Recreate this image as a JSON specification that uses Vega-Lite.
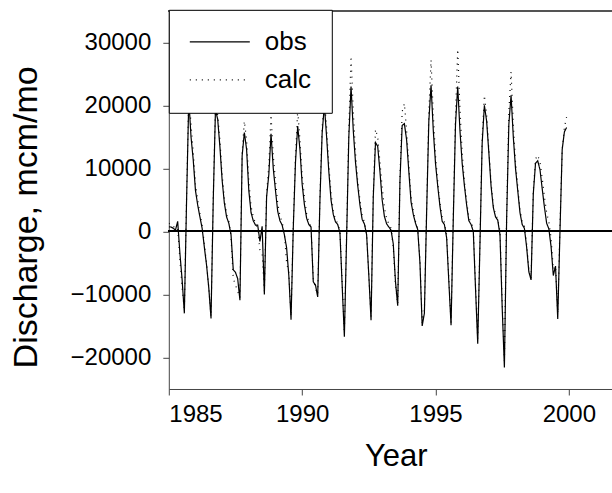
{
  "$schema": "https://vega.github.io/schema/vega-lite/v6.json",
  "width": 443,
  "height": 378.2,
  "autosize": {"type": "none"},
  "padding": {"left": 168.8, "top": 10.8, "right": 0, "bottom": 104},
  "background": "white",
  "config": {
    "view": {"stroke": null},
    "font": "Liberation Sans",
    "axis": {
      "domainColor": "#444",
      "tickColor": "#444",
      "labelColor": "black",
      "titleColor": "black",
      "labelFont": "Liberation Sans",
      "titleFont": "Liberation Sans",
      "labelFontSize": 24,
      "titleFontSize": 31,
      "titleFontWeight": "normal",
      "grid": false,
      "tickSize": 6
    },
    "legend": {
      "labelFont": "Liberation Sans",
      "labelFontSize": 26,
      "labelColor": "black"
    }
  },
  "data": {
    "values": [
      {"t":1985.000,"obs":730,"calc":1300},{"t":1985.083,"obs":700,"calc":1000},{"t":1985.167,"obs":500,"calc":700},{"t":1985.250,"obs":200,"calc":800},{"t":1985.333,"obs":1600,"calc":600},{"t":1985.417,"obs":-3500,"calc":-4500},{"t":1985.500,"obs":-7700,"calc":-9000},{"t":1985.583,"obs":-13000,"calc":-12500},{"t":1985.667,"obs":5000,"calc":5500},{"t":1985.750,"obs":21000,"calc":22000},{"t":1985.833,"obs":15000,"calc":17000},{"t":1985.917,"obs":11300,"calc":12500},
      {"t":1986.000,"obs":6500,"calc":7500},{"t":1986.083,"obs":4200,"calc":5000},{"t":1986.167,"obs":2300,"calc":2800},{"t":1986.250,"obs":500,"calc":1000},{"t":1986.333,"obs":-2500,"calc":-2000},{"t":1986.417,"obs":-5400,"calc":-5000},{"t":1986.500,"obs":-9000,"calc":-9000},{"t":1986.583,"obs":-13800,"calc":-13500},{"t":1986.667,"obs":5000,"calc":5500},{"t":1986.750,"obs":19300,"calc":20000},{"t":1986.833,"obs":17800,"calc":18500},{"t":1986.917,"obs":13400,"calc":14500},
      {"t":1987.000,"obs":8100,"calc":9000},{"t":1987.083,"obs":4500,"calc":5200},{"t":1987.167,"obs":2300,"calc":2800},{"t":1987.250,"obs":1300,"calc":1600},{"t":1987.333,"obs":-500,"calc":-800},{"t":1987.417,"obs":-6100,"calc":-7500},{"t":1987.500,"obs":-6500,"calc":-8500},{"t":1987.583,"obs":-7500,"calc":-9500},{"t":1987.667,"obs":-10900,"calc":-10500},{"t":1987.750,"obs":12000,"calc":12500},{"t":1987.833,"obs":15700,"calc":17500},{"t":1987.917,"obs":13000,"calc":14500},
      {"t":1988.000,"obs":6500,"calc":8000},{"t":1988.083,"obs":3000,"calc":4000},{"t":1988.167,"obs":1700,"calc":2300},{"t":1988.250,"obs":1000,"calc":1300},{"t":1988.333,"obs":1000,"calc":500},{"t":1988.417,"obs":-1600,"calc":-3000},{"t":1988.500,"obs":800,"calc":-3500},{"t":1988.583,"obs":-10000,"calc":-9500},{"t":1988.667,"obs":5500,"calc":6000},{"t":1988.750,"obs":9000,"calc":10500},{"t":1988.833,"obs":15500,"calc":18500},{"t":1988.917,"obs":10000,"calc":12000},
      {"t":1989.000,"obs":6500,"calc":8000},{"t":1989.083,"obs":3200,"calc":4500},{"t":1989.167,"obs":1700,"calc":2500},{"t":1989.250,"obs":1000,"calc":1500},{"t":1989.333,"obs":-500,"calc":-300},{"t":1989.417,"obs":-2600,"calc":-5000},{"t":1989.500,"obs":-7000,"calc":-6500},{"t":1989.583,"obs":-14000,"calc":-13500},{"t":1989.667,"obs":500,"calc":1000},{"t":1989.750,"obs":11000,"calc":12000},{"t":1989.833,"obs":16700,"calc":19200},{"t":1989.917,"obs":13000,"calc":14500},
      {"t":1990.000,"obs":7500,"calc":9000},{"t":1990.083,"obs":4300,"calc":5500},{"t":1990.167,"obs":2100,"calc":2800},{"t":1990.250,"obs":1100,"calc":1500},{"t":1990.333,"obs":700,"calc":700},{"t":1990.417,"obs":-8000,"calc":-7500},{"t":1990.500,"obs":-8500,"calc":-9000},{"t":1990.583,"obs":-10400,"calc":-10000},{"t":1990.667,"obs":5000,"calc":5500},{"t":1990.750,"obs":15600,"calc":16500},{"t":1990.833,"obs":20000,"calc":21000},{"t":1990.917,"obs":15000,"calc":16500},
      {"t":1991.000,"obs":9500,"calc":10500},{"t":1991.083,"obs":5000,"calc":6000},{"t":1991.167,"obs":2700,"calc":3300},{"t":1991.250,"obs":1500,"calc":1800},{"t":1991.333,"obs":1100,"calc":1300},{"t":1991.417,"obs":-200,"calc":0},{"t":1991.500,"obs":-8500,"calc":-8000},{"t":1991.583,"obs":-16700,"calc":-16000},{"t":1991.667,"obs":-1000,"calc":-500},{"t":1991.750,"obs":15000,"calc":16500},{"t":1991.833,"obs":23000,"calc":27800},{"t":1991.917,"obs":16000,"calc":19000},
      {"t":1992.000,"obs":11000,"calc":12500},{"t":1992.083,"obs":7300,"calc":8000},{"t":1992.167,"obs":4200,"calc":5000},{"t":1992.250,"obs":1900,"calc":2500},{"t":1992.333,"obs":1200,"calc":1500},{"t":1992.417,"obs":-500,"calc":-300},{"t":1992.500,"obs":-7000,"calc":-7000},{"t":1992.583,"obs":-14100,"calc":-13500},{"t":1992.667,"obs":5500,"calc":6000},{"t":1992.750,"obs":14100,"calc":16200},{"t":1992.833,"obs":13500,"calc":15000},{"t":1992.917,"obs":9500,"calc":11000},
      {"t":1993.000,"obs":5000,"calc":7000},{"t":1993.083,"obs":2400,"calc":3800},{"t":1993.167,"obs":1200,"calc":2000},{"t":1993.250,"obs":700,"calc":1200},{"t":1993.333,"obs":200,"calc":500},{"t":1993.417,"obs":-2000,"calc":-2500},{"t":1993.500,"obs":-8000,"calc":-8500},{"t":1993.583,"obs":-11800,"calc":-11500},{"t":1993.667,"obs":8000,"calc":8500},{"t":1993.750,"obs":16800,"calc":19000},{"t":1993.833,"obs":17100,"calc":20300},{"t":1993.917,"obs":14500,"calc":16000},
      {"t":1994.000,"obs":9500,"calc":10500},{"t":1994.083,"obs":4700,"calc":5500},{"t":1994.167,"obs":2700,"calc":3200},{"t":1994.250,"obs":1300,"calc":1600},{"t":1994.333,"obs":300,"calc":500},{"t":1994.417,"obs":-5000,"calc":-4500},{"t":1994.500,"obs":-15000,"calc":-14500},{"t":1994.583,"obs":-13000,"calc":-12500},{"t":1994.667,"obs":3000,"calc":3500},{"t":1994.750,"obs":17500,"calc":19000},{"t":1994.833,"obs":23200,"calc":27200},{"t":1994.917,"obs":16000,"calc":18500},
      {"t":1995.000,"obs":10800,"calc":12000},{"t":1995.083,"obs":7200,"calc":8000},{"t":1995.167,"obs":4000,"calc":4500},{"t":1995.250,"obs":1600,"calc":2200},{"t":1995.333,"obs":1100,"calc":1500},{"t":1995.417,"obs":-1000,"calc":-500},{"t":1995.500,"obs":-8000,"calc":-7500},{"t":1995.583,"obs":-14900,"calc":-14500},{"t":1995.667,"obs":2000,"calc":2500},{"t":1995.750,"obs":17000,"calc":18500},{"t":1995.833,"obs":23000,"calc":28900},{"t":1995.917,"obs":16000,"calc":19500},
      {"t":1996.000,"obs":10800,"calc":12500},{"t":1996.083,"obs":7300,"calc":8000},{"t":1996.167,"obs":4200,"calc":4800},{"t":1996.250,"obs":1700,"calc":2200},{"t":1996.333,"obs":1100,"calc":1400},{"t":1996.417,"obs":0,"calc":500},{"t":1996.500,"obs":-9000,"calc":-8500},{"t":1996.583,"obs":-17800,"calc":-17000},{"t":1996.667,"obs":-2000,"calc":-1500},{"t":1996.750,"obs":14000,"calc":15000},{"t":1996.833,"obs":20000,"calc":21600},{"t":1996.917,"obs":17500,"calc":18500},
      {"t":1997.000,"obs":12500,"calc":13000},{"t":1997.083,"obs":7200,"calc":7800},{"t":1997.167,"obs":3800,"calc":4200},{"t":1997.250,"obs":2300,"calc":2600},{"t":1997.333,"obs":1800,"calc":2000},{"t":1997.417,"obs":-500,"calc":0},{"t":1997.500,"obs":-12000,"calc":-11000},{"t":1997.583,"obs":-21600,"calc":-20500},{"t":1997.667,"obs":2000,"calc":2500},{"t":1997.750,"obs":17000,"calc":19000},{"t":1997.833,"obs":21600,"calc":25300},{"t":1997.917,"obs":15000,"calc":17000},
      {"t":1998.000,"obs":10000,"calc":11000},{"t":1998.083,"obs":6500,"calc":7200},{"t":1998.167,"obs":3000,"calc":3500},{"t":1998.250,"obs":1100,"calc":1500},{"t":1998.333,"obs":500,"calc":800},{"t":1998.417,"obs":-2500,"calc":-2000},{"t":1998.500,"obs":-6400,"calc":-6000},{"t":1998.583,"obs":-7700,"calc":-7500},{"t":1998.667,"obs":6000,"calc":6500},{"t":1998.750,"obs":10800,"calc":11500},{"t":1998.833,"obs":11200,"calc":12100},{"t":1998.917,"obs":9800,"calc":11000},
      {"t":1999.000,"obs":6800,"calc":8500},{"t":1999.083,"obs":3900,"calc":5500},{"t":1999.167,"obs":1300,"calc":3000},{"t":1999.250,"obs":400,"calc":1500},{"t":1999.333,"obs":-2400,"calc":-1000},{"t":1999.417,"obs":-7000,"calc":-6000},{"t":1999.500,"obs":-5500,"calc":-5500},{"t":1999.583,"obs":-13900,"calc":-13000},{"t":1999.667,"obs":0,"calc":1000},{"t":1999.750,"obs":13000,"calc":13000},{"t":1999.833,"obs":15800,"calc":16500},{"t":1999.917,"obs":16500,"calc":18200}
    ]
  },
  "layer": [
    {
      "mark": {"type": "rule", "color": "#555", "strokeWidth": 1.2},
      "encoding": {"y": {"datum": 35000, "scale": {"domain": [-25000, 35000]}}}
    },
    {
      "mark": {"type": "rule", "color": "black", "strokeWidth": 1.3},
      "encoding": {"y": {"datum": 0}}
    },
    {
      "transform": [{"fold": ["obs", "calc"], "as": ["series", "value"]}],
      "mark": {"type": "line", "clip": true, "color": "black", "strokeWidth": 1.2},
      "encoding": {
        "x": {
          "field": "t", "type": "quantitative",
          "scale": {"domain": [1985, 2001.61], "nice": false, "zero": false},
          "axis": {
            "title": "Year",
            "values": [1985, 1990, 1995, 2000],
            "format": "d",
            "labelPadding": 8,
            "titleX": 227,
            "titleY": 68,
            "titleBaseline": "middle"
          }
        },
        "y": {
          "field": "value", "type": "quantitative",
          "scale": {"domain": [-25000, 35000], "nice": false, "zero": false},
          "axis": {
            "title": "Discharge, mcm/mo",
            "values": [-20000, -10000, 0, 10000, 20000, 30000],
            "format": "d",
            "labelPadding": 12,
            "titleFontSize": 34,
            "titleAngle": 270,
            "titleX": -142,
            "titleY": 206,
            "titleAlign": "center",
            "titleBaseline": "middle"
          }
        },
        "strokeDash": {
          "field": "series", "type": "nominal",
          "scale": {"domain": ["obs", "calc"], "range": [[1, 0], [1, 5]]},
          "legend": {
            "title": null,
            "orient": "none",
            "legendX": 0,
            "legendY": -1,
            "fillColor": "white",
            "strokeColor": "black",
            "padding": 20,
            "clipHeight": 24,
            "symbolType": "stroke",
            "symbolSize": 3600,
            "symbolStrokeWidth": 1.2,
            "symbolStrokeColor": "black",
            "labelOffset": 14,
            "rowPadding": 12
          }
        }
      }
    }
  ]
}
